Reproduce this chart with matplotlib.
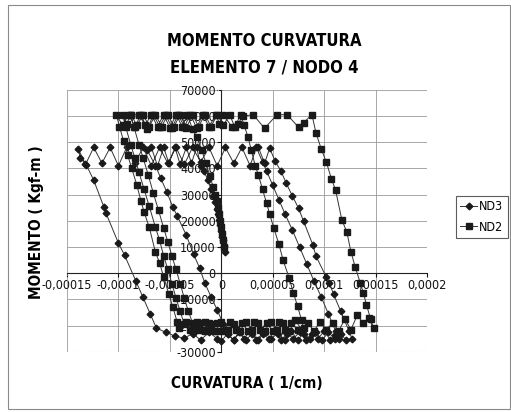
import numpy as np
import matplotlib
matplotlib.use("Agg")
import matplotlib.pyplot as plt
from matplotlib.patches import Rectangle
from matplotlib.lines import Line2D

plt.rcParams['font.family'] = ['DejaVu Sans']
plt.rcParams['font.stretch'] = 'condensed'

# curvature in 1e-6 1/cm, moment in kgf-m
nd3_x = [4, 3, 2, 1, 0, -1, -2, -3, -4, -6, -8, -10, -13, -17, -20,
         -24, -29, -34, -40, -45, -51, -56, -62, -68, -72,
         -64, -59, -53, -47, -43, -34, -27, -21, -16, -10, -4, 2, 6,
         12, 17, 22, 28, 34, 40, 46, 52, 58, 64, 70, 76, 82, 88, 94, 100, 106, 110, 114,
         111, 104, 97, 90, 83, 76, 69, 62, 56, 50, 44, 40, 34,
         28, 20, 12, 4, -4, -12, -20, -28, -36, -44, -52, -60, -68, -76, -84, -92,
         -100, -108, -116, -124, -132, -139,
         -137, -131, -124, -114, -112, -100, -94, -83, -76, -69, -63,
         -54, -45, -36, -28, -20, -12, -4, 0, 6, 12, 18, 24, 30, 36, 42, 48, 55, 62,
         68, 74, 80, 86, 92, 98, 104, 110, 116, 121, 127,
         124, 116, 109, 105, 102, 92, 89, 80, 75, 69, 63, 58, 52, 47, 42, 36]
nd3_y = [8000, 10500, 12500, 14000, 16000, 18500, 20500, 22500, 24500, 27000, 29500, 32000, 35500, 39000, 41000,
         48000, 42000, 48000, 41500, 48000, 42000, 48000, 41000, 48000, 47000,
         41000, 36500, 31000, 25200, 22000, 14500, 7300, 1900, -3800, -9000, -14000, -19500, -23000,
         -25500, -22500, -25000, -22000, -25500, -23000, -25000, -22000, -25500, -23000, -25000, -22500,
         -25500, -23000, -25000, -22000, -25500, -23500, -25000,
         -22000, -15500, -9000, -3000, 3500, 10000, 16500, 22500, 28000, 33500, 39000, 42500, 48000,
         41000, 48000, 42000, 48000, 41000, 48000, 42500, 48000, 41500, 48000, 42000, 48000, 41000, 48000,
         42000, 48000, 41000, 48000, 42000, 48000, 41500, 47500,
         44000, 41200, 35500, 25200, 22900, 11500, 6900, -3000, -9200, -15500, -21000,
         -22500, -24000, -24800, -23000, -25500, -22500, -25000, -26000, -23000, -25500, -22500, -25500,
         -23000, -25500, -22500, -25000, -23000, -25500,
         -22000, -25500, -23000, -25000, -22500, -25500, -22500, -25000, -23000, -25500, -25000,
         -22000, -14500, -8000, -3800, -1500, 6500, 10700, 19800, 24800, 29500, 34400, 38900, 43000, 47700,
         42000, 48000]

nd2_x = [3, 2, 1, 0, -1, -2, -3, -4, -6, -8, -11, -15, -19, -24, -28,
         -33, -38, -44, -50, -56, -62, -68, -74, -80, -88,
         -85, -80, -76, -71, -66, -61, -56, -52, -48, -44, -40, -36, -32, -28,
         -22, -16, -10, -4, 2, 8, 14, 20, 26, 32, 38, 44, 50, 56, 62, 68, 74, 80,
         78, 74, 70, 66, 60, 56, 51, 47, 44, 40, 36, 33, 29, 26, 22, 19,
         13, 8, 2, -4, -10, -16, -22, -28, -34, -40, -46, -52, -58, -64, -70, -76, -82, -88, -92, -96,
         -93, -88, -84, -80, -75, -70, -64, -60, -56, -52, -48, -44, -40, -36,
         -30, -24, -18, -12, -6, 0, 6, 12, 18, 24, 30, 36, 42, 48, 54, 60, 66, 72, 78, 84, 90, 96,
         102, 108, 114, 120, 126, 132, 138, 143, 148,
         145, 141, 138, 135, 130, 126, 122, 117, 111, 107, 102, 97, 92, 88,
         80, 75, 64, 54, 42, 31, 21, 16, 10, 2, -2, -5, -12, -18, -24, -30, -36, -42, -48, -54,
         -60, -66, -72, -78, -84, -90, -96, -102,
         -99, -95, -91, -87, -82, -78, -75, -70, -64, -60, -56, -51, -47, -43, -41,
         -34, -28, -22, -16, -10, -4]
nd2_y = [10000, 12500, 15000, 17500, 20000, 22500, 25000, 27500, 30000, 33000, 37000, 42000, 47000, 52000, 55000,
         60500, 56000, 60500, 55500, 60500, 56000, 60500, 56500, 60500, 60500,
         56000, 49000, 44000, 37500, 30500, 24000, 17200, 12000, 6500, 1500, -4000, -9500, -14500, -19000,
         -21500, -18500, -21500, -19000, -22000, -18500, -21500, -19000, -22000, -18500, -21500, -19000,
         -22000, -18500, -21500, -19000, -21500, -21000,
         -18000, -12500, -7500, -1900, 5000, 11000, 17200, 22500, 26700, 32000, 37500, 41000, 47000,
         52000, 56500, 60500,
         56000, 60500, 56500, 60500, 56000, 60500, 56000, 60500, 55500, 60500, 56000, 60500, 56000, 60500,
         56000, 60500, 56500, 60500, 57000, 60500,
         56000, 49000, 44000, 38500, 32000, 25500, 17500, 12600, 6500, 1500, -4000, -9500, -14500, -19500,
         -21500, -18500, -21500, -19000, -22000, -18500, -21500, -19500, -22000, -18500, -21500, -19000,
         -22000, -18500, -21500, -19000, -22000, -18000, -21500, -19000, -22000, -18500,
         -21500, -19000, -22000, -17500, -21500, -16000, -19000, -17200, -21000,
         -17500, -12000, -7500, -3800, 2500, 8000, 15600, 20500, 31700, 36000, 42400, 47500, 53500, 60500,
         57500, 55700, 60500, 60500, 55300, 60500, 60000, 57000, 56000, 60500, 57000, 60500, 56000, 60500,
         55500, 60500, 56000, 60500, 55500, 60500,
         56000, 60500, 55000, 60500, 56000, 60500, 56500, 60500,
         56000, 50500, 45000, 40000, 33500, 27500, 23300, 17500, 8000, 4000, -1500, -8000, -13000, -18500,
         -21000,
         -18500, -21500, -19000, -22000, -19500, -22000]

x_ticks = [-0.00015, -0.0001, -0.00005, 0, 0.00005, 0.0001, 0.00015, 0.0002]
x_tick_labels = ['-0,00015', '-0,0001', '-0,00005', '0', '0,00005', '0,0001', '0,00015', '0,0002']
y_ticks = [-30000, -20000, -10000, 0, 10000, 20000, 30000, 40000, 50000, 60000, 70000]

fig = plt.figure(figsize=(5.11, 4.12), dpi=100)
ax = fig.add_axes([0.131, 0.146, 0.705, 0.636])

c3 = np.array(nd3_x) * 1e-6
c2 = np.array(nd2_x) * 1e-6
ax.plot(c3, nd3_y, color='#333333', lw=0.7, marker='D', ms=3.4,
        mfc='#1a1a1a', mec='#1a1a1a', label='ND3', zorder=3)
ax.plot(c2, nd2_y, color='#333333', lw=0.7, marker='s', ms=4.4,
        mfc='#1a1a1a', mec='#1a1a1a', label='ND2', zorder=3)

ax.set_xlim(-0.00015, 0.0002)
ax.set_ylim(-30000, 70000)
ax.set_xticks(x_ticks)
ax.set_xticklabels(x_tick_labels)
ax.set_yticks(y_ticks)
ax.set_yticklabels([str(v) for v in y_ticks])
ax.grid(True, color='#9a9a9a', lw=0.6)
ax.set_axisbelow(True)

# axes cross at zero, like the spreadsheet chart
for s in ['top', 'right']:
    ax.spines[s].set_visible(False)
ax.spines['left'].set_position(('data', 0))
ax.spines['bottom'].set_position(('data', 0))
ax.spines['left'].set_color('#222222')
ax.spines['bottom'].set_color('#222222')
ax.tick_params(axis='both', direction='out', length=3, width=0.8, labelsize=9, pad=1, colors='#111111')
ax.add_patch(Rectangle((0, 0), 1, 1, transform=ax.transAxes, fill=False,
                       ec='#b0b0b0', lw=0.8, ls=':', zorder=1))

fig.text(264 / 511, 1 - 41 / 412, 'MOMENTO CURVATURA', ha='center', va='center',
         fontsize=12, fontweight='bold')
fig.text(264 / 511, 1 - 67 / 412, 'ELEMENTO 7 / NODO 4', ha='center', va='center',
         fontsize=12, fontweight='bold')
fig.text(37 / 511, 1 - 222 / 412, 'MOMENTO ( Kgf-m )', ha='center', va='center',
         rotation=90, fontsize=11, fontweight='bold')
fig.text(247 / 511, 1 - 383 / 412, 'CURVATURA ( 1/cm)', ha='center', va='center',
         fontsize=11, fontweight='bold')

handles = [Line2D([], [], color='#333333', lw=0.7, marker='D', ms=3.4, mfc='#1a1a1a', mec='#1a1a1a'),
           Line2D([], [], color='#333333', lw=0.7, marker='s', ms=4.4, mfc='#1a1a1a', mec='#1a1a1a')]
leg = fig.legend(handles, ['ND3', 'ND2'], loc='center left', bbox_to_anchor=(456 / 511, 1 - 217 / 412),
                 fancybox=False, edgecolor='#333333', fontsize=9, handlelength=1.3,
                 borderpad=0.35, handletextpad=0.2, labelspacing=0.6, borderaxespad=0)
leg.get_frame().set_linewidth(0.8)

fig.patches.append(Rectangle((8 / 511, 3 / 412), 502 / 511, 404 / 412, transform=fig.transFigure,
                             fill=False, ec='#8a8a8a', lw=0.8))

fig.savefig('out.png', dpi=100)
